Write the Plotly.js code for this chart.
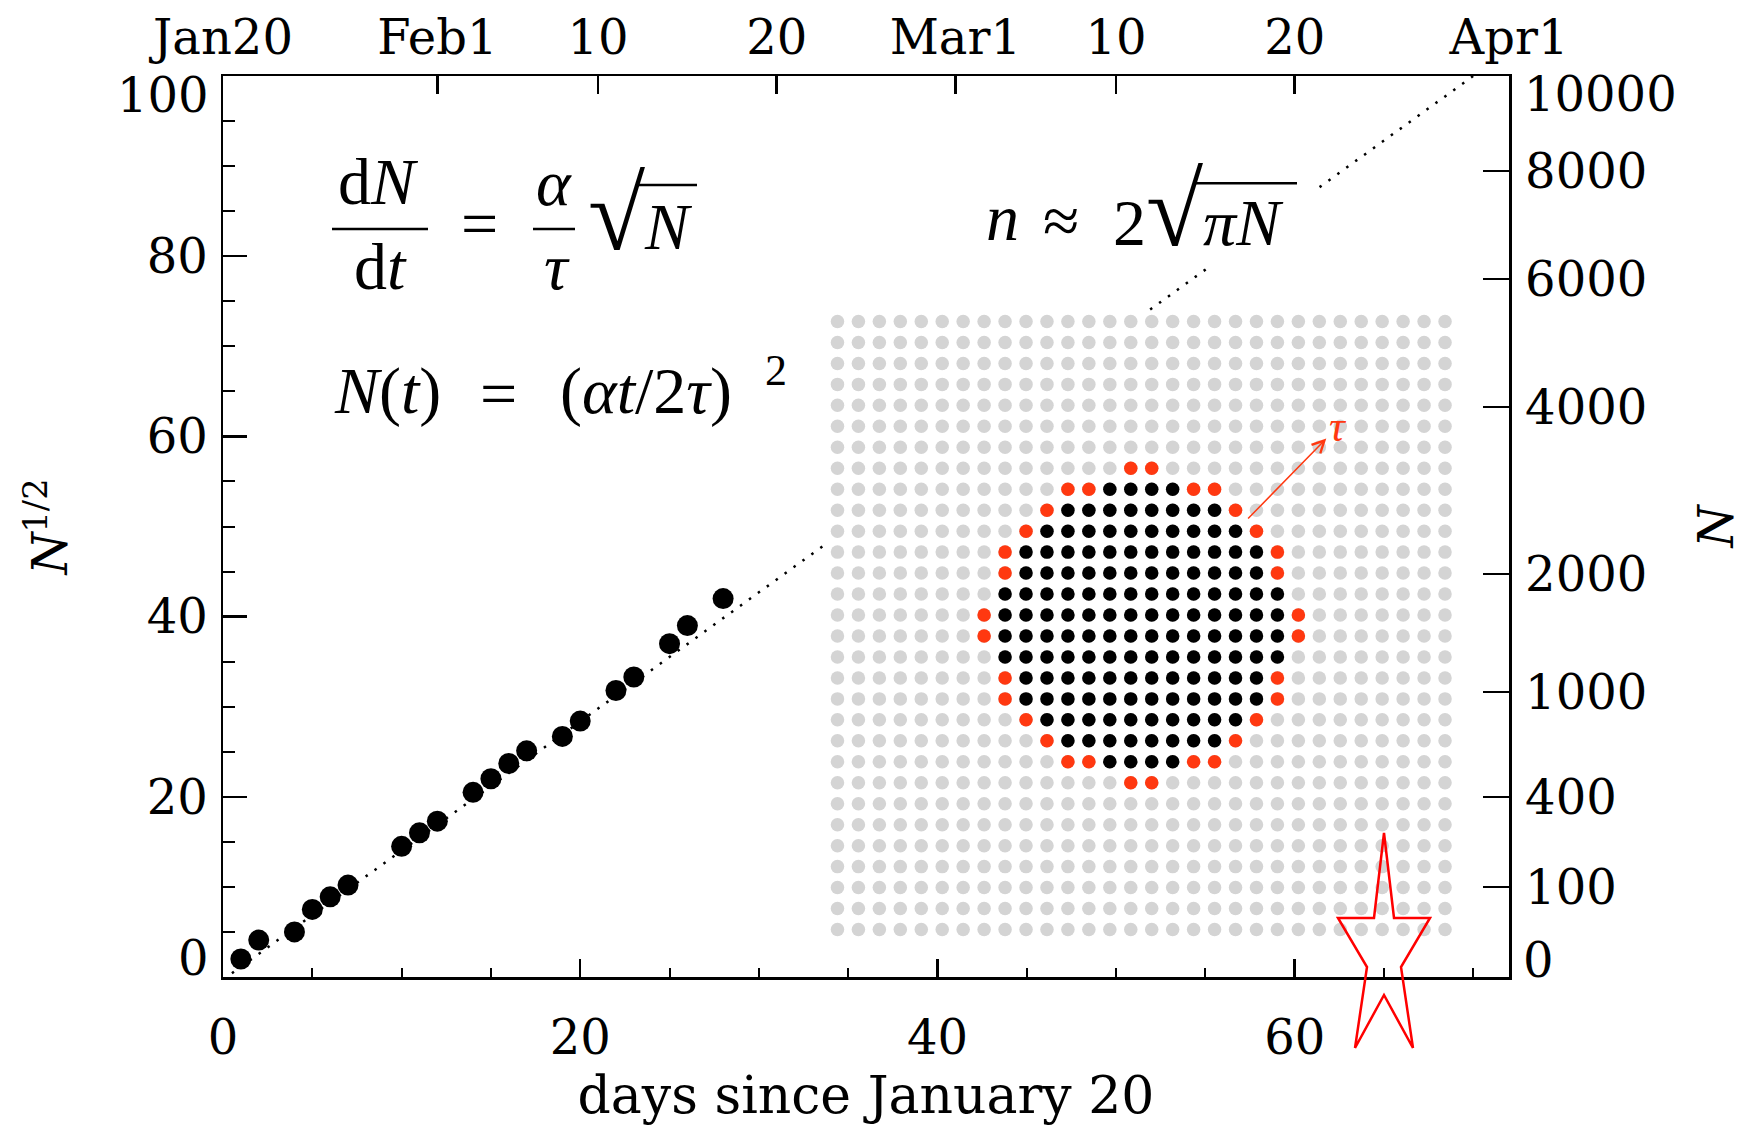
<!DOCTYPE html>
<html>
<head>
<meta charset="utf-8">
<script src="https://cdn.plot.ly/plotly-3.0.1.min.js"></script>
<style>
html, body { margin: 0; padding: 0; background: #ffffff; }
#chart { width: 1744px; height: 1126px; }
</style>
</head>
<body>
<div id="chart"></div>
<script>
// ---------------- data ----------------
const days = [1, 2, 4, 5, 6, 7, 10, 11, 12, 14, 15, 16, 17, 19, 20, 22, 23, 25, 26, 28];
const sqrtN = [2.0, 4.1, 5.0, 7.5, 8.9, 10.2, 14.5, 16.0, 17.3, 20.5, 22.0, 23.7, 25.1, 26.7, 28.4, 31.8, 33.3, 37.0, 39.0, 42.0];

// dotted fit line: two end points
const fitDays = [0, 70.0];
const fitSqrtN = [-0.3, 100];

// axes
const xRange = [0, 72];
const yRange = [0, 100];
const topTickDays = [0, 12, 21, 31, 41, 50, 60, 72];
const topTickLabels = ['Jan20', 'Feb1', '10', '20', 'Mar1', '10', '20', 'Apr1'];
const leftTickVals = [0, 20, 40, 60, 80, 100];
const rightTickN = [0, 100, 400, 1000, 2000, 4000, 6000, 8000, 10000];

// 30 x 30 dot lattice with the infected disk (rows / columns counted from the top-left)
const gridSize = 30;
const clusterRows = [7, 8, 9, 10, 11, 12, 13, 14, 15, 16, 17, 18, 19, 20, 21, 22];
const blackFrom = [null, 13, 11, 10, 9, 9, 8, 8, 8, 8, 9, 9, 10, 11, 13, null];
const blackTo   = [null, 16, 18, 19, 20, 20, 21, 21, 21, 21, 20, 20, 19, 18, 16, null];
const redCols = [[14, 15], [11, 12, 17, 18], [10, 19], [9, 20], [8, 21], [8, 21], [], [7, 22], [7, 22], [], [8, 21], [8, 21], [9, 20], [10, 19], [11, 12, 17, 18], [14, 15]];

// ---------------- layout helpers ----------------
const W = 1744, H = 1126;
const L = 223, R = 1509, T = 76, B = 977;
const px = X => (X - L) / (R - L);
const py = Y => (B - Y) / (B - T);

const TICKFONT = 'DejaVu Serif';
const MATH = 'Liberation Serif';
const MS = 66;
const RAD = 104;
const RED = '#ff3810';

function txt(text, cx, cy, size, family, extra) {
  return Object.assign({
    xref: 'paper', yref: 'paper', x: px(cx), y: py(cy),
    xanchor: 'center', yanchor: 'middle', showarrow: false,
    text: text, font: { family: family, size: size, color: '#000' }
  }, extra || {});
}
const mid = (baseline, size) => baseline - 0.34 * size;
const radical = '<span style="font-size:' + RAD + 'px">√</span>';
function hline(x0, x1, y, w) {
  return { type: 'line', xref: 'paper', yref: 'paper', x0: px(x0), x1: px(x1), y0: py(y), y1: py(y),
           line: { color: '#000', width: w || 2.5 }, layer: 'above' };
}

// ---------------- lattice points ----------------
const greyCol = [], greyRow = [];
for (let r = 0; r < gridSize; r++) for (let c = 0; c < gridSize; c++) { greyCol.push(c); greyRow.push(r); }
const blackCol = [], blackRow = [];
clusterRows.forEach((r, i) => {
  if (blackFrom[i] !== null) for (let c = blackFrom[i]; c <= blackTo[i]; c++) { blackCol.push(c); blackRow.push(r); }
});
const redCol = [], redRow = [];
clusterRows.forEach((r, i) => redCols[i].forEach(c => { redCol.push(c); redRow.push(r); }));

const lo = -0.5, hi = gridSize - 0.5;

const traces = [
  { x: fitDays, y: fitSqrtN, mode: 'lines', line: { color: '#000', width: 2.5, dash: '2.5px,8.5px' }, hoverinfo: 'skip' },
  { x: days, y: sqrtN, mode: 'markers', marker: { color: '#000', size: 21 }, cliponaxis: false },
  { x: [xRange[0]], y: [yRange[0]], xaxis: 'x2', yaxis: 'y2', mode: 'markers', marker: { size: 1, opacity: 0 }, hoverinfo: 'skip' },
  { x: [lo, hi, hi, lo, lo], y: [lo, lo, hi, hi, lo], xaxis: 'x3', yaxis: 'y3', mode: 'lines',
    fill: 'toself', fillcolor: '#ffffff', line: { width: 0, color: '#ffffff' }, hoverinfo: 'skip' },
  { x: greyCol, y: greyRow, xaxis: 'x3', yaxis: 'y3', mode: 'markers', marker: { color: '#d4d4d4', size: 13.5 }, hoverinfo: 'skip' },
  { x: blackCol, y: blackRow, xaxis: 'x3', yaxis: 'y3', mode: 'markers', marker: { color: '#000', size: 13.5 }, hoverinfo: 'skip' },
  { x: redCol, y: redRow, xaxis: 'x3', yaxis: 'y3', mode: 'markers', marker: { color: RED, size: 13.5 }, hoverinfo: 'skip' }
];

// ---------------- annotations ----------------
const annotations = [
  // axis end labels (kept inside the frame as in the original)
  txt(String(yRange[1]), 211, 94.5, 48, TICKFONT, { xanchor: 'right' }),
  txt(String(yRange[0]), 211, 958, 48, TICKFONT, { xanchor: 'right' }),
  txt(String(rightTickN[rightTickN.length - 1]), 1522, 94, 48, TICKFONT, { xanchor: 'left' }),
  txt(String(rightTickN[0]), 1521, 960, 48, TICKFONT, { xanchor: 'left' }),

  // dN/dt = (alpha/tau) sqrt(N)
  txt('d<i>N</i>', 378.5, mid(204, MS), MS, MATH),
  txt('d<i>t</i>', 380, mid(289, MS), MS, MATH),
  txt('=', 479, 223, MS, MATH),
  txt('<i>α</i>', 554, mid(205, MS), MS, MATH),
  txt('<i>τ</i>', 556.5, mid(289, MS), MS, MATH),
  txt(radical + '<i>N</i>', 640, mid(249, RAD), MS, MATH),

  // N(t) = (alpha t / 2 tau)^2
  txt('<i>N</i>(<i>t</i>)', 387, mid(413, MS), MS, MATH),
  txt('=', 498, 394, MS, MATH),
  txt('(<i>αt</i>/2<i>τ</i>)', 645.5, mid(413, MS), MS, MATH),
  txt('2', 776, mid(385, 44), 44, MATH),

  // n ~ 2 sqrt(pi N)
  txt('<i>n</i>', 1003, mid(240, MS), MS, MATH),
  txt('≈', 1061, 221, MS, MATH),
  txt('2' + radical + '<i>πN</i>', 1198, mid(245, RAD), MS, MATH),

  // tau label with its arrow (head at the label end) in lattice coordinates
  { xref: 'x3', yref: 'y3', axref: 'x3', ayref: 'y3', x: 19.6, y: 9.4, ax: 23.9, ay: 5.0,
    text: '<i>τ</i>', showarrow: true, arrowside: 'start', startarrowhead: 5, startarrowsize: 1.6,
    arrowwidth: 1.5, arrowcolor: RED, standoff: 0, startstandoff: 2,
    font: { family: MATH, size: 44, color: RED } }
];

// ---------------- shapes ----------------
const STAR = [[1384, 833], [1394, 918], [1430, 918], [1401, 967], [1413, 1048], [1384, 995],
              [1355, 1048], [1367, 967], [1338, 918], [1374, 918]];
const starPath = STAR.map((p, i) => (i ? 'L' : 'M') + px(p[0]).toFixed(5) + ',' + py(p[1]).toFixed(5)).join(' ') + ' Z';

const shapes = [
  // white box hiding the fit line behind the n formula
  { type: 'rect', xref: 'paper', yref: 'paper', x0: px(975), x1: px(1318), y0: py(268), y1: py(170),
    fillcolor: '#ffffff', line: { width: 0 }, layer: 'above' },
  hline(332, 428, 229), hline(533, 575, 229), hline(636, 697, 185),
  hline(1193, 1297, 183.3),
  { type: 'path', xref: 'paper', yref: 'paper', path: starPath, line: { color: '#ff0000', width: 2.5 },
    fillcolor: 'rgba(0,0,0,0)', layer: 'above' }
];

const tickFont = { family: TICKFONT, size: 48, color: '#000' };
const axisCommon = { showgrid: false, zeroline: false, showline: true, linecolor: '#000', linewidth: 2.5,
                     tickcolor: '#000', tickwidth: 2.5, ticks: 'inside', tickfont: tickFont, fixedrange: true };
const hiddenAxis = { showgrid: false, zeroline: false, showline: false, showticklabels: false, ticks: '', fixedrange: true };

const layout = {
  width: W, height: H,
  margin: { l: L, r: W - R, t: T, b: H - B, pad: 0 },
  paper_bgcolor: '#ffffff', plot_bgcolor: '#ffffff',
  showlegend: false,
  font: { family: TICKFONT, size: 48, color: '#000' },
  xaxis: Object.assign({}, axisCommon, {
    range: xRange, tickmode: 'linear', tick0: 0, dtick: 20, ticklen: 18, ticklabelstandoff: 17,
    minor: { ticks: 'inside', ticklen: 9, tickwidth: 2, tickcolor: '#000', tickmode: 'linear', tick0: 0, dtick: 5, showgrid: false },
    title: { text: 'days since January 20', font: { family: TICKFONT, size: 52, color: '#000' }, standoff: 12 }
  }),
  xaxis2: Object.assign({}, axisCommon, {
    overlaying: 'x', side: 'top', anchor: 'y', range: xRange, tickmode: 'array',
    tickvals: topTickDays, ticktext: topTickLabels, ticklen: 18, ticklabelstandoff: 0
  }),
  yaxis: Object.assign({}, axisCommon, {
    range: yRange, tickmode: 'array', tickvals: leftTickVals.slice(1, -1),
    ticktext: leftTickVals.slice(1, -1).map(String),
    ticklen: 24, ticklabelstandoff: 3,
    minor: { ticks: 'inside', ticklen: 12, tickwidth: 2, tickcolor: '#000', tickmode: 'linear', tick0: 0, dtick: 5, showgrid: false },
    title: { text: '<i>N</i><sup>1/2</sup>', font: { family: TICKFONT, size: 48, color: '#000' }, standoff: 64 }
  }),
  yaxis2: Object.assign({}, axisCommon, {
    overlaying: 'y', side: 'right', anchor: 'x', range: yRange, tickmode: 'array',
    tickvals: rightTickN.slice(1, -1).map(n => Math.sqrt(n)),
    ticktext: rightTickN.slice(1, -1).map(String),
    ticklen: 26, ticklabelstandoff: 4,
    title: { text: '<i>N</i>', font: { family: TICKFONT, size: 48, color: '#000' }, standoff: 55 }
  }),
  xaxis3: Object.assign({}, hiddenAxis, { domain: [px(827), px(1455.5)], range: [lo, hi], anchor: 'y3' }),
  yaxis3: Object.assign({}, hiddenAxis, { domain: [py(940), py(311)], range: [hi, lo], anchor: 'x3' }),
  annotations: annotations,
  shapes: shapes
};

Plotly.newPlot('chart', traces, layout, { staticPlot: true, displayModeBar: false });
</script>
</body>
</html>
